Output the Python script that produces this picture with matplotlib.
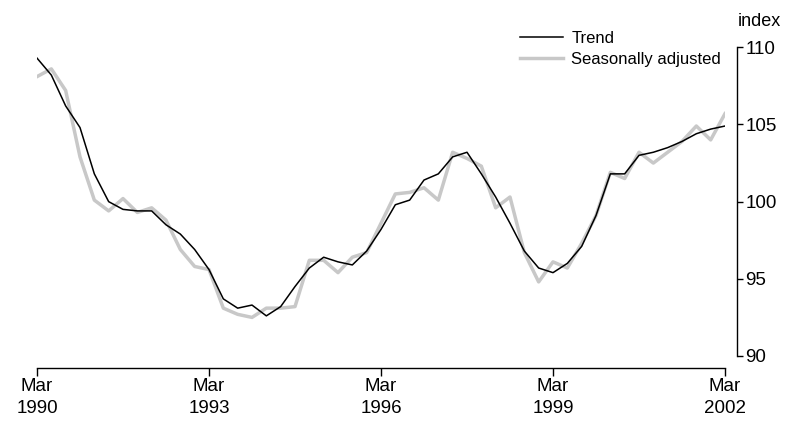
import matplotlib
matplotlib.use('Agg')
import matplotlib.pyplot as plt

plt.rcParams['font.family'] = ['Liberation Sans Narrow', 'Liberation Sans', 'DejaVu Sans']

# quarterly, Mar 1990 .. Mar 2002
trend = [109.3, 108.2, 106.2, 104.8, 101.8, 100.0, 99.5, 99.4, 99.4, 98.5,
         97.9, 96.9, 95.6, 93.7, 93.1, 93.3, 92.6, 93.2, 94.5, 95.7,
         96.4, 96.1, 95.9, 96.8, 98.2, 99.8, 100.1, 101.4, 101.8, 102.9,
         103.2, 101.8, 100.3, 98.6, 96.8, 95.7, 95.4, 96.0, 97.1, 99.1,
         101.8, 101.8, 103.0, 103.2, 103.5, 103.9, 104.4, 104.7, 104.9]
seas_adj = [108.1, 108.6, 107.2, 102.9, 100.1, 99.4, 100.2, 99.3, 99.6, 98.8,
            96.9, 95.8, 95.6, 93.1, 92.7, 92.5, 93.1, 93.1, 93.2, 96.2,
            96.2, 95.4, 96.4, 96.7, 98.6, 100.5, 100.6, 100.9, 100.1, 103.2,
            102.8, 102.3, 99.6, 100.3, 96.7, 94.8, 96.1, 95.7, 97.3, 99.1,
            101.9, 101.5, 103.2, 102.5, 103.2, 103.9, 104.9, 104.0, 105.7]
tick_pos = [0, 12, 24, 36, 48]
tick_labels = ['Mar\n1990', 'Mar\n1993', 'Mar\n1996', 'Mar\n1999', 'Mar\n2002']
y_ticks = [90, 95, 100, 105, 110]

fig = plt.figure(figsize=(7.89, 4.21), dpi=100)
ax = fig.add_axes([37 / 789, 1 - 356 / 421, 688 / 789, (356 - 47.3) / 421])

x = range(len(trend))
ax.plot(x, trend, color='black', lw=1.1, label='Trend', zorder=3)
ax.plot(x, seas_adj, color='#c8c8c8', lw=2.5, label='Seasonally adjusted', zorder=2)

ax.set_xlim(0, 48)
ax.set_ylim(90, 110)

for s in ['top', 'left']:
    ax.spines[s].set_visible(False)
ax.spines['bottom'].set_position(('outward', 8.6))
ax.spines['right'].set_position(('outward', 8.6))
ax.spines['bottom'].set_linewidth(1.0)
ax.spines['right'].set_linewidth(1.0)

ax.yaxis.tick_right()
ax.set_yticks(y_ticks)
ax.set_xticks(tick_pos)
ax.set_xticklabels(tick_labels, fontsize=13.5, linespacing=1.4)
ax.tick_params(axis='x', direction='out', length=6, width=1.0, pad=1)
ax.tick_params(axis='y', direction='out', length=4, width=1.0, labelsize=13.5, pad=2)

ax.text(1.019, 1.055, 'index', transform=ax.transAxes, fontsize=13, ha='left', va='bottom')

leg = ax.legend(loc='upper right', bbox_to_anchor=(1.004, 1.074), frameon=False,
                fontsize=12, handlelength=2.6, handletextpad=0.5,
                labelspacing=0.35, borderaxespad=0)

fig.savefig('out.png', dpi=100)
